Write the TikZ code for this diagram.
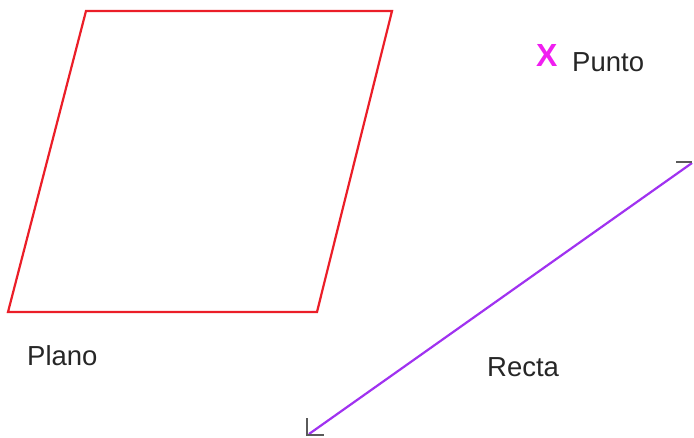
\documentclass[tikz,border=0pt]{standalone}
\usepackage{fontspec}
\setmainfont{Liberation Sans}
\definecolor{planored}{RGB}{235,30,40}
\definecolor{rectaviolet}{RGB}{160,50,240}
\definecolor{puntomag}{RGB}{240,30,240}
\definecolor{tickgray}{RGB}{90,90,90}
\begin{document}
\begin{tikzpicture}[x=1pt,y=-1pt,
  lbl/.style={inner sep=0pt,anchor=base west,font=\fontsize{27.5}{32}\selectfont,text=black!85},
  planoedge/.style={draw=planored,line width=2.2pt,line join=miter},
  rectaline/.style={draw=rectaviolet,line width=2.2pt},
  tick/.style={draw=tickgray,line width=1.6pt}]
\useasboundingbox (0,0) rectangle (694,437);
% Plano
\coordinate (p1) at (86,11);
\coordinate (p2) at (392,11);
\coordinate (p3) at (317,312);
\coordinate (p4) at (8,312);
\draw[planoedge] (p1) -- (p2) -- (p3) -- (p4) -- cycle;
\node[lbl] (plano) at (27,365) {Plano};
% Punto
\node[inner sep=0pt,anchor=base west,font=\fontsize{32}{36}\selectfont\bfseries,text=puntomag] (x) at (536,66) {X};
\node[lbl] (punto) at (572,71) {Punto};
% Recta
\coordinate (r1) at (692,163);
\coordinate (r2) at (309,434);
\draw[rectaline] (r1) -- (r2);
\coordinate (t1) at (676,162);
\coordinate (t2) at (692,162);
\draw[tick] (t1) -- (t2);
\coordinate (b1) at (307,418);
\coordinate (b2) at (307,435);
\coordinate (b3) at (324,435);
\draw[tick] (b1) -- (b2) -- (b3);
\node[lbl] (recta) at (487,376) {Recta};
\end{tikzpicture}
\end{document}
